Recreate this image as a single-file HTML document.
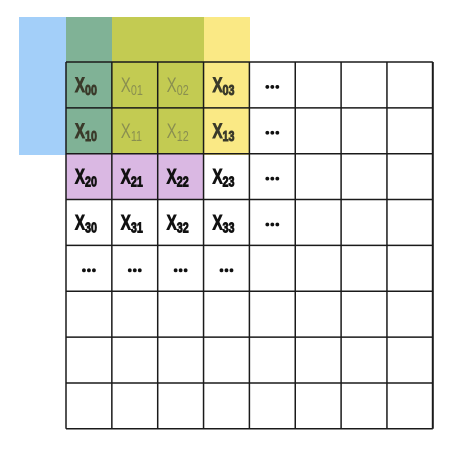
<!DOCTYPE html>
<html><head><meta charset="utf-8"><style>
html,body{margin:0;padding:0;background:#fff;width:461px;height:461px;overflow:hidden}
svg text{font-family:"Liberation Sans",sans-serif}
</style></head><body>
<svg width="461" height="461">
<rect x="19" y="17" width="47" height="138" fill="#a3cff9"/>
<rect x="66" y="17" width="46" height="138" fill="#80b296"/>
<rect x="112" y="17" width="92" height="138" fill="#c3cb52"/>
<rect x="204" y="17" width="46" height="138" fill="#fae985"/>
<rect x="66" y="154" width="138" height="46" fill="#dab8e3"/>
<g id="grid"></g>
<g id="labels"></g>
</svg>
<script>
const x0=66,y0=62,cs=45.85,n=8;
const g=document.getElementById('grid');
const NS='http://www.w3.org/2000/svg';
for(let i=0;i<=n;i++){
  const v=document.createElementNS(NS,'line');
  v.setAttribute('x1',x0+i*cs);v.setAttribute('x2',x0+i*cs);v.setAttribute('y1',y0);v.setAttribute('y2',y0+n*cs);
  v.setAttribute('stroke','#1a1a1a');v.setAttribute('stroke-width',i==n?2:1.5);
  
  
  g.appendChild(v);
  const h=document.createElementNS(NS,'line');
  h.setAttribute('y1',y0+i*cs);h.setAttribute('y2',y0+i*cs);h.setAttribute('x1',x0);h.setAttribute('x2',x0+n*cs);
  h.setAttribute('stroke','#1a1a1a');h.setAttribute('stroke-width',1.5);
  
  
  g.appendChild(h);
}
const L=document.getElementById('labels');
const faded=['01','02','11','12'];
for(let r=0;r<5;r++)for(let c=0;c<5;c++){
  if(r==4&&c==4)continue;
  const cx=x0+c*cs+cs/2, cy=y0+r*cs+cs/2;
  if(r==4||c==4){
    const d=document.createElementNS(NS,'g');
    
    
    for(let k=-1;k<=1;k++){
      const ci=document.createElementNS(NS,'circle');
      ci.setAttribute('cx',cx+k*5);ci.setAttribute('cy',cy+2);ci.setAttribute('r',1.9);ci.setAttribute('fill','#111');
      
      
      d.appendChild(ci);
    }
    L.appendChild(d);
  } else {
    const t=document.createElementNS(NS,'text');
    
    
    const id=''+r+c;
    const fade=faded.includes(id);
    const lx=cx-14;
    const col=fade?'#8a8f50':(r<2?'#3a3a2a':'#111');
    t.setAttribute('x',lx);t.setAttribute('y',cy+7);
    t.setAttribute('fill',col);
    t.setAttribute('font-size','21');
    t.setAttribute('style','font-weight:'+(fade?'normal':'bold'));
    if(!fade){t.setAttribute('stroke',col);t.setAttribute('stroke-width','0.9');}
    t.setAttribute('transform','translate('+lx+',0) scale(0.72,1) translate('+(-lx)+',0)');
    t.innerHTML='X<tspan font-size="15" dy="3">'+id+'</tspan>';
    L.appendChild(t);
  }
}
</script>
</body></html>
